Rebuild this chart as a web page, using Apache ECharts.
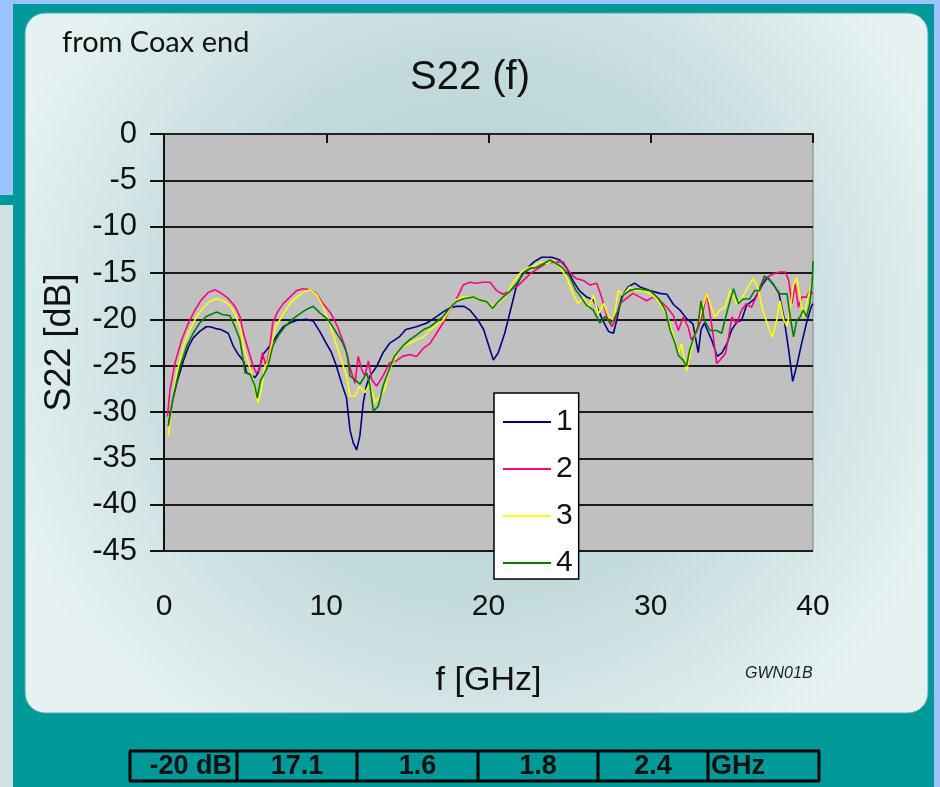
<!DOCTYPE html>
<html>
<head>
<meta charset="utf-8">
<script src="https://cdn.jsdelivr.net/npm/echarts@6/dist/echarts.min.js"></script>
<style>
html,body{margin:0;padding:0;background:#9cc3fb;}
#chart{width:940px;height:787px;}
</style>
</head>
<body>
<div id="chart"></div>
<script>
// ---- data (frequency GHz, S22 dB) ----
const seriesNames = ['1','2','3','4'];
const xTicks = [0,10,20,30,40];
const yTicks = [0,-5,-10,-15,-20,-25,-30,-35,-40,-45];
const tableCells = ['-20 dB','17.1','1.6','1.8','2.4','GHz'];

const s1 = [[0.27,-31.5],[0.5,-29],[0.78,-26.9],[1.19,-24.5],[1.5,-23],[1.8,-22],[2.2,-21.3],[2.6,-20.8],[2.83,-20.8],[3.2,-21],[3.5,-21.1],[3.96,-21.5],[4.27,-22.9],[4.58,-23.8],[4.9,-24.5],[5.1,-25.8],[5.4,-26],[5.6,-26.3],[5.8,-25.8],[6.1,-23.8],[6.5,-22.9],[6.9,-21.9],[7.35,-20.8],[7.76,-20.4],[8.2,-20.1],[8.8,-20],[9.2,-20.2],[9.6,-21.3],[10.0,-22.6],[10.3,-23.5],[10.6,-24.9],[11.0,-27.2],[11.25,-28.5],[11.46,-31.9],[11.66,-33.3],[11.87,-34.1],[12.07,-32.6],[12.28,-29],[12.5,-27],[12.7,-26.1],[13.1,-25.1],[13.5,-23.6],[13.9,-22.6],[14.5,-21.9],[14.9,-21.1],[15.56,-20.8],[16.2,-20.4],[16.8,-19.7],[17.2,-19.2],[17.6,-18.8],[18.0,-18.6],[18.5,-18.6],[18.85,-19],[19.36,-20.1],[19.7,-21.1],[20.1,-23.3],[20.3,-24.4],[20.6,-23.6],[21.0,-21.5],[21.3,-19.4],[21.5,-18],[21.74,-16.3],[22.15,-14.9],[22.8,-13.8],[23.28,-13.3],[23.9,-13.3],[24.4,-13.6],[24.8,-14.4],[25.2,-15.8],[25.6,-16.9],[26.05,-17.6],[26.46,-17.9],[26.77,-19],[27.08,-20.25],[27.4,-21.3],[27.7,-21.5],[27.9,-20.1],[28.2,-17.6],[28.6,-16.5],[29.0,-16.1],[29.34,-16.5],[29.95,-16.9],[30.57,-17.2],[31.0,-17.3],[31.4,-18.4],[31.8,-19],[32.2,-19.9],[32.6,-20.5],[32.93,-23.6],[33.1,-21.1],[33.3,-20.4],[33.75,-22.2],[34.1,-24],[34.4,-23.6],[34.7,-22.6],[35.0,-21.1],[35.3,-20.3],[35.6,-20.1],[35.9,-18.5],[36.4,-17.8],[36.9,-16.2],[37.2,-15.5],[37.55,-16.2],[37.9,-17.2],[38.2,-19.7],[38.5,-23.3],[38.75,-26.7],[39.0,-25],[39.3,-22.6],[39.6,-20.4],[39.9,-18.6],[40,-18.3]];

const s2 = [[0.21,-30.5],[0.37,-27.6],[0.68,-24.7],[1.09,-22.2],[1.5,-20.4],[1.91,-19],[2.3,-17.9],[2.73,-17.1],[3.14,-16.8],[3.55,-17.2],[3.96,-17.75],[4.37,-18.6],[4.68,-19.7],[4.9,-21.5],[5.2,-23.3],[5.5,-25.1],[5.7,-25.8],[5.9,-25.4],[6.06,-23.6],[6.3,-25.1],[6.5,-23.3],[6.7,-20.4],[7.0,-19.2],[7.35,-18.3],[7.76,-17.6],[8.17,-16.9],[8.58,-16.7],[8.99,-16.8],[9.4,-17.2],[9.8,-18.3],[10.3,-19.4],[10.7,-20.8],[11.15,-22.9],[11.46,-25.2],[11.77,-26.9],[11.97,-24],[12.18,-25.4],[12.38,-26.1],[12.6,-24.5],[12.8,-26.5],[13.1,-27.2],[13.5,-26.1],[13.9,-24.7],[14.3,-24.5],[14.7,-24],[15.15,-23.8],[15.56,-24],[16.0,-23.1],[16.4,-22.6],[16.8,-21.5],[17.2,-20.4],[17.6,-19],[18.0,-17.9],[18.44,-16.3],[18.85,-16],[19.26,-16.1],[19.67,-16],[20.1,-16],[20.5,-16.9],[20.9,-17.3],[21.3,-16.9],[21.74,-16.5],[22.15,-15.8],[22.56,-15.1],[22.97,-14.6],[23.6,-13.9],[24.2,-13.8],[24.6,-13.8],[25.0,-14.9],[25.4,-15.6],[25.85,-15.8],[26.26,-16.3],[26.67,-16.1],[26.97,-17.6],[27.3,-19.7],[27.6,-20.8],[27.8,-20.1],[28.1,-18.3],[28.5,-17.75],[28.9,-17.2],[29.34,-17.6],[29.75,-18],[30.16,-17.6],[30.57,-18],[31.0,-18.7],[31.4,-19.6],[31.7,-21.2],[32.0,-19.75],[32.3,-20.8],[32.5,-22.2],[32.8,-21.5],[33.1,-20.1],[33.45,-17.25],[33.65,-19.4],[33.86,-21.9],[34.06,-24.75],[34.27,-24.4],[34.6,-23.7],[34.8,-21.9],[35.0,-19.75],[35.3,-20.5],[35.6,-19],[35.9,-18.3],[36.2,-18.7],[36.5,-17.6],[36.8,-16.2],[37.1,-15.5],[37.55,-15.1],[37.96,-14.9],[38.3,-14.9],[38.5,-15.8],[38.7,-18.3],[38.9,-16.2],[39.1,-18.7],[39.3,-17.6],[39.6,-17.6],[39.8,-16.9],[40,-17.25]];

const s3 = [[0.27,-32.6],[0.47,-29.4],[0.78,-25.8],[1.19,-22.9],[1.6,-21.1],[2.0,-19.7],[2.4,-18.8],[2.8,-18.1],[3.24,-17.75],[3.65,-18],[4.06,-18.5],[4.37,-19.4],[4.68,-20.8],[4.9,-22.9],[5.2,-24.7],[5.4,-25.8],[5.6,-27.6],[5.8,-29],[6.0,-27.6],[6.2,-25.1],[6.4,-24.7],[6.6,-22.9],[6.9,-20.8],[7.35,-19.4],[7.76,-18.3],[8.17,-17.6],[8.58,-17.1],[8.99,-16.8],[9.4,-17.3],[9.8,-18.6],[10.2,-20.4],[10.6,-22.6],[11.0,-24.75],[11.3,-26.5],[11.46,-28.3],[11.77,-28.3],[12.07,-27.2],[12.38,-27.9],[12.7,-26.9],[13.0,-29],[13.3,-28.3],[13.6,-27.6],[13.9,-25.4],[14.3,-24],[14.7,-22.9],[15.15,-22.6],[15.56,-22.2],[16.0,-21.9],[16.4,-21.1],[16.8,-20.6],[17.2,-20.1],[17.6,-19],[18.0,-17.9],[18.44,-17.6],[18.85,-17.6],[19.47,-17.8],[19.9,-18.1],[20.3,-18.6],[20.7,-18.1],[21.1,-17.4],[21.5,-16.1],[21.9,-15.1],[22.35,-14.5],[22.8,-14.2],[23.2,-13.8],[23.6,-14],[24.0,-13.6],[24.4,-14.4],[24.8,-15.4],[25.2,-17.2],[25.5,-18.3],[25.85,-17.6],[26.15,-18.8],[26.46,-17.4],[26.77,-19.4],[27.1,-18.3],[27.4,-19.7],[27.7,-20.1],[28.0,-16.9],[28.3,-17.4],[28.7,-16.5],[29.1,-16.9],[29.5,-16.9],[29.95,-17.2],[30.36,-17.8],[30.8,-18.9],[31.1,-20.1],[31.4,-21.8],[31.7,-23.7],[31.9,-22.6],[32.2,-25.6],[32.4,-24],[32.7,-21.9],[32.9,-20.5],[33.2,-18.7],[33.45,-17.25],[33.65,-18.3],[33.96,-19.75],[34.27,-19],[34.57,-18.7],[34.9,-16.9],[35.3,-18.3],[35.6,-17.8],[36.0,-16.5],[36.3,-15.6],[36.6,-16.5],[36.9,-19],[37.25,-20.8],[37.5,-21.9],[37.76,-20.1],[37.96,-18],[38.2,-20.1],[38.4,-20.8],[38.6,-18.7],[38.8,-16.2],[39.0,-15.5],[39.2,-17.6],[39.4,-19.75],[39.6,-18.3],[39.8,-16.9],[40,-15.8]];

const s4 = [[0.27,-31.5],[0.58,-28.3],[0.99,-25.1],[1.4,-22.9],[1.8,-21.5],[2.2,-20.4],[2.6,-19.7],[3.24,-19.2],[3.65,-19.5],[4.06,-19.6],[4.37,-20.8],[4.68,-22.2],[5.0,-25.8],[5.3,-25.9],[5.6,-27.2],[5.75,-28.5],[5.95,-26.6],[6.2,-25.8],[6.4,-25.1],[6.7,-22.9],[7.1,-21.6],[7.5,-20.7],[7.9,-20],[8.3,-19.5],[8.8,-18.9],[9.2,-18.6],[9.6,-19.3],[10.1,-20],[10.5,-21.1],[11.0,-22.5],[11.3,-23.8],[11.46,-26.1],[11.77,-26.5],[12.07,-27],[12.5,-25.8],[12.7,-27.2],[12.9,-29.9],[13.2,-29.4],[13.5,-27.2],[13.8,-25.8],[14.2,-24],[14.7,-22.9],[15.15,-22.2],[15.56,-21.7],[16.0,-21.1],[16.4,-20.8],[16.8,-20.25],[17.2,-19.7],[17.6,-18.8],[18.0,-18.1],[18.5,-17.75],[19.05,-17.6],[19.47,-17.9],[19.9,-18.1],[20.25,-18.8],[20.6,-18.1],[20.9,-17.6],[21.3,-17],[21.74,-16.1],[22.15,-15.1],[22.56,-14.5],[22.97,-14.4],[23.38,-14],[23.8,-13.6],[24.2,-14],[24.6,-14.5],[25.0,-15.4],[25.4,-16.9],[25.7,-17.6],[26.05,-18.5],[26.46,-19],[26.87,-20.4],[27.18,-19.7],[27.5,-20.4],[27.7,-20.1],[28.0,-19],[28.3,-17.4],[28.7,-16.9],[29.1,-16.7],[29.6,-16.8],[29.96,-16.9],[30.5,-17.8],[30.9,-19],[31.2,-21.2],[31.5,-22.6],[31.7,-23.9],[32.0,-24.4],[32.2,-25.1],[32.4,-23.3],[32.6,-22.25],[32.9,-20.8],[33.1,-18],[33.3,-20.1],[33.65,-21.2],[34.06,-21.2],[34.37,-21.5],[34.57,-20.1],[34.78,-18.7],[35.1,-16.7],[35.4,-18.3],[35.7,-17.8],[36.1,-17.8],[36.4,-16.9],[36.7,-16.9],[37.0,-15.3],[37.35,-15.8],[37.66,-16.5],[37.96,-17.25],[38.4,-17.25],[38.6,-19.75],[38.8,-21.9],[39.0,-20.1],[39.2,-19.75],[39.4,-19],[39.6,-19.75],[39.8,-18.3],[39.95,-16],[40,-13.7]];

const seriesData = [s1, s2, s3, s4];
const seriesColors = ['#000080', '#ff0080', '#ffff00', '#008000'];

// ---- chart ----
const chart = echarts.init(document.getElementById('chart'), null, {renderer: 'canvas'});
const AX = '"Liberation Sans", Arial, sans-serif';

// table graphics
const tableX = [130, 237, 357, 478, 598, 708, 819];
const tableTop = 751, tableBot = 781;
const tableAlign = ['right','center','center','center','center','left'];
const tableGraphics = [];
tableGraphics.push({type:'line', shape:{x1:tableX[0]-1, y1:tableTop, x2:tableX[6]+1, y2:tableTop}, style:{stroke:'#000', lineWidth:3}});
tableGraphics.push({type:'line', shape:{x1:tableX[0]-1, y1:tableBot, x2:tableX[6]+1, y2:tableBot}, style:{stroke:'#000', lineWidth:3}});
tableX.forEach(function(x){
  tableGraphics.push({type:'line', shape:{x1:x, y1:tableTop, x2:x, y2:tableBot}, style:{stroke:'#000', lineWidth:3}});
});
tableCells.forEach(function(t, i){
  let x;
  if (tableAlign[i] === 'right') x = tableX[i+1] - 5;
  else if (tableAlign[i] === 'left') x = tableX[i] + 3;
  else x = (tableX[i] + tableX[i+1]) / 2;
  tableGraphics.push({type:'text', x:x, y:(tableTop+tableBot)/2 + 1,
    style:{text:t, fill:'#111', font:'bold 27px "Liberation Sans", Arial, sans-serif', textAlign:tableAlign[i], textVerticalAlign:'middle'}});
});

const option = {
  animation: false,
  backgroundColor: 'transparent',
  title: {
    text: 'S22 (f)', left: 'center', top: 53,
    textStyle: {fontFamily: AX, fontSize: 40, fontWeight: 'normal', color: '#111'}
  },
  legend: {
    orient: 'vertical', left: 494, top: 393,
    data: seriesNames,
    icon: 'rect', itemWidth: 48, itemHeight: 2, itemGap: 17,
    padding: [14, 6, 1, 9],
    backgroundColor: '#fff', borderColor: '#000', borderWidth: 1.5,
    textStyle: {fontFamily: AX, fontSize: 30, color: '#111', lineHeight: 30}
  },
  grid: {
    left: 164, right: 127, top: 134, bottom: 236,
    show: true, backgroundColor: '#c0c0c0', borderColor: '#808080', borderWidth: 1
  },
  xAxis: [
    {
      type: 'value', min: 0, max: 40, interval: 10, position: 'bottom',
      name: 'f [GHz]', nameLocation: 'middle', nameGap: 113,
      nameTextStyle: {fontFamily: AX, fontSize: 34, color: '#111'},
      axisLine: {show: false}, axisTick: {show: false}, splitLine: {show: false},
      axisLabel: {margin: 41, fontFamily: AX, fontSize: 30, color: '#111',
        formatter: function(v){ return xTicks.indexOf(v) >= 0 ? String(v) : ''; }}
    },
    {
      type: 'value', min: 0, max: 40, interval: 10, position: 'top',
      axisLine: {show: true, lineStyle: {color: '#222', width: 2}},
      axisTick: {show: true, inside: true, length: 9, lineStyle: {color: '#111', width: 2}},
      axisLabel: {show: false}, splitLine: {show: false}
    }
  ],
  yAxis: {
    type: 'value', min: -45, max: 0, interval: 5,
    name: 'S22 [dB]', nameLocation: 'middle', nameGap: 86,
    nameTextStyle: {fontFamily: AX, fontSize: 36, color: '#111'},
    axisLine: {show: true, lineStyle: {color: '#111', width: 2}},
    axisTick: {show: true, length: 14, lineStyle: {color: '#111', width: 2}},
    splitLine: {show: true, lineStyle: {color: '#1a1a1a', width: 2}},
    axisLabel: {margin: 27, fontFamily: AX, fontSize: 31, color: '#111',
      formatter: function(v){ return yTicks.indexOf(v) >= 0 ? String(v) : ''; }}
  },
  graphic: [
    {type:'rect', z:-100, silent:true, shape:{x:0,y:0,width:940,height:787}, style:{fill:'#9cc3fb'}},
    {type:'rect', z:-99, silent:true, shape:{x:0,y:205,width:13,height:582}, style:{fill:'#d3e0e0'}},
    {type:'rect', z:-99, silent:true, shape:{x:0,y:195,width:13,height:10}, style:{fill:'#009999'}},
    {type:'rect', z:-98, silent:true, shape:{x:13,y:4,width:921,height:783}, style:{fill:'#009999'}},
    {type:'rect', z:-97, silent:true, shape:{x:25,y:13,width:903,height:700,r:20},
      style:{fill:{type:'radial', x:0.5, y:0.45, r:0.72,
        colorStops:[{offset:0,color:'#b2cdd1'},{offset:0.55,color:'#c4dbdd'},{offset:1,color:'#e6f2f1'}]},
        stroke:'#4fa9a9', lineWidth:1}},
    {type:'text', z:10, left:62, top:28, style:{text:'from Coax end', fill:'#111', font:'29px Lato, "Open Sans", sans-serif'}},
    {type:'text', z:10, left:745, top:666, style:{text:'GWN01B', fill:'#222', font:'italic 16px "Liberation Sans", Arial, sans-serif'}},
    {type:'group', z:10, children: tableGraphics}
  ],
  series: seriesData.map(function(d, i){
    return {
      name: seriesNames[i], type: 'line', data: d, xAxisIndex: 0,
      showSymbol: false, symbol: 'none',
      lineStyle: {color: seriesColors[i], width: 1.6},
      itemStyle: {color: seriesColors[i]},
      z: 3 + i
    };
  })
};
chart.setOption(option);
</script>
</body>
</html>
